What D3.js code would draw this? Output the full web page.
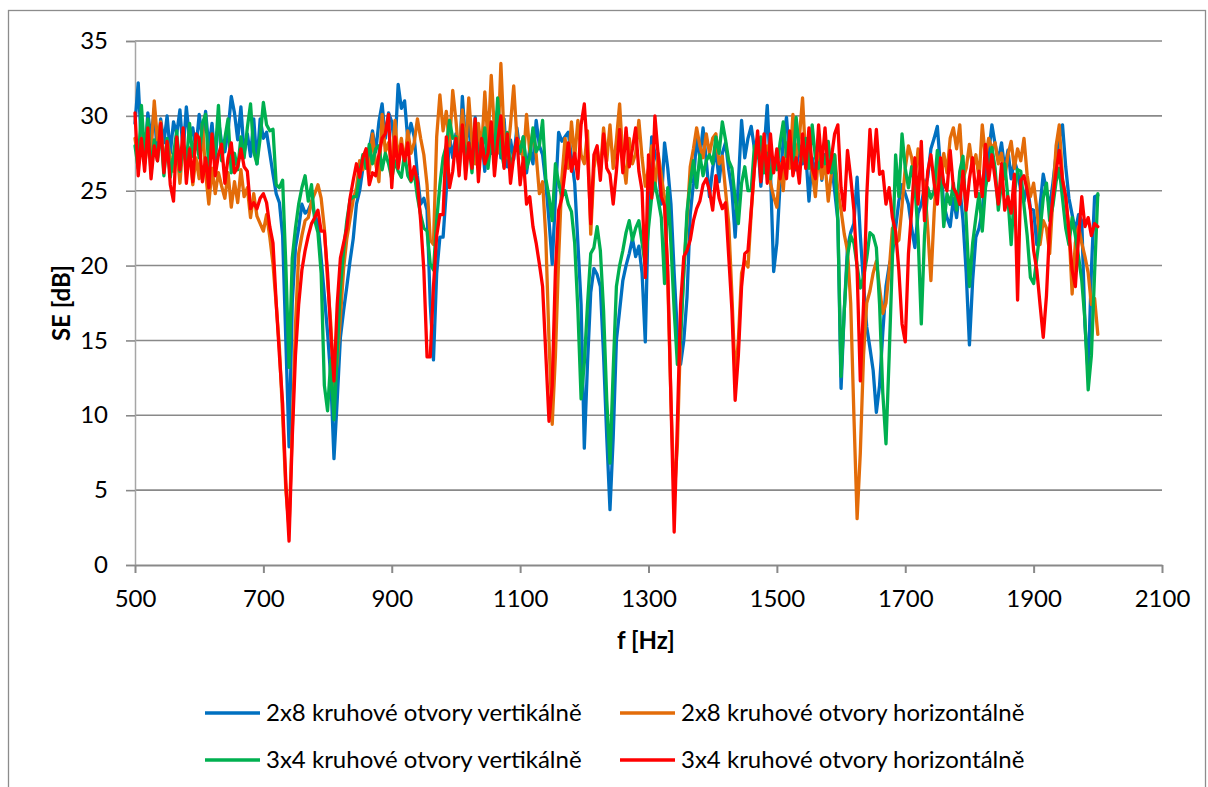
<!DOCTYPE html>
<html>
<head>
<meta charset="utf-8">
<script src="https://cdn.jsdelivr.net/npm/d3@7"></script>
<style>
  html, body { margin: 0; padding: 0; background: #fff; }
  svg { display: block; font-family: Lato, 'Open Sans', sans-serif; }
</style>
</head>
<body>
<svg id="chart" width="1208" height="787"></svg>
<script>
// frequency grid of the measurement [Hz]
const fStart = 500, fEnd = 2000, fStep = 5;

// SE [dB], one value per 5 Hz, rows are 100 Hz blocks
const blueVert2x8 = [
  29.5,32.2,28,27,30.2,28.5,30.5,27.2,29.8,28.2,30,27.5,29.6,28.8,30.4,27.6,30.6,28.4,29.2,27.8,
  30.1,28.5,30.3,27.9,29.5,27,29.7,28.2,27.6,29,31.3,30.2,28.4,30.6,27.5,28.8,27.3,29.8,26.8,29.8,
  28.5,28.9,27.5,26.1,24.8,24.2,22,15,7.9,17.5,21.2,22.5,24.1,23.5,23.7,24.2,23.4,22.8,20.5,18,
  15.5,12.5,7.1,11,15.2,17,18.6,20.3,21.8,24.1,25,26.5,26.8,27.8,29,27.6,29.6,30.8,28.5,30.2,
  29.6,27.8,32.1,30.5,31,28.4,29.5,28.6,26,24.1,24.5,23.7,17.4,13.7,19.5,21.9,21.9,25,28.6,27.2,
  28.8,26.5,31.3,28.2,29.5,26.8,29.9,27.4,28.6,26.3,30.2,27.5,29.1,30.4,27.2,29.8,26.6,28.4,27.1,29.2,
  27.5,28.6,26.2,27.8,26.8,29.7,28,27.4,25.5,23,20.1,24.5,28.9,28.3,28.6,28.9,27.2,25.5,21.5,17.4,
  7.8,13.5,18.2,19.8,19.4,18.6,14,8.5,3.7,8.5,15,17,19,20,20.8,21.8,20.6,21.3,19.5,14.9,
  24,28.6,27.5,26.8,24.1,28.2,26.5,24.1,19.5,15.5,13.4,15,17.9,23.4,25.5,28.6,27.2,29.2,27,24.6,
  26.5,27.8,25.6,27.5,28.2,26.4,25,21.9,25.5,29.7,27.2,28.5,29.3,27.8,28.5,25.3,27.6,30.7,26.3,19.6,
  21.5,25.5,28.4,29.9,27.2,28.8,26.4,28,26.8,27.5,24.3,27.2,26.1,28.3,25.7,27.4,26.4,26.9,25,23,
  11.8,17,21.2,22.2,22.8,25.9,22,18.8,15.9,14.5,13,10.2,12,15.5,18.6,20,20.8,22.5,24.3,25.4,
  24.8,24.1,22.5,21.2,23.5,24.1,25.2,25.9,27.8,28.5,29.3,26.5,24.1,23.2,22.6,24.5,23.2,25.2,23,19.5,
  14.7,19,21.9,22.5,23.7,26,27.5,29.4,28.1,27,28.2,26.4,27.7,25.8,27,26.3,25,24.3,25.5,23.8,
  23.7,21.4,24,26.1,25,23.9,25.5,27.4,28.5,29.4,26.6,24.5,23.4,22.3,23.4,23,16,12.8,19.7,24.6,
  24.7
];

const orangeHoriz2x8 = [
  28.5,27,29.5,26.8,28.2,27.5,31,28.4,29.6,26.5,28.4,27.2,26.3,27.8,25.5,28.2,26.6,27.9,25.4,27.2,
  25.8,29.5,26.2,24.1,26.5,24.8,26.2,25.3,24.5,26.2,23.9,25.6,24.2,26.4,24.6,25.2,23.2,24.8,23.3,22.8,
  22.3,23.4,21.9,20.1,17.4,14.5,10,5,2.5,9,16,20.8,22,23,23.2,24.3,24.8,25.4,24.5,22.5,
  19,16.1,12,13.5,16.5,19.8,21.8,23.1,24.4,25.2,27,26.4,27.5,26.2,28.8,26.8,25.6,30.1,27.6,28.2,
  26.5,29.7,27,28.5,26.8,29,27.5,28.2,29.8,28.5,27.4,25.4,21.7,21.4,28.6,31.4,29,30.3,28,31.7,
  29.7,27.2,30.4,27.5,31.2,28.3,26.8,29.5,27.6,31.6,28.2,32.7,29,27.5,33.5,28.6,27.2,29.4,32,28.5,
  28.2,27,30.1,27.6,29,27.4,24.8,25.6,21.9,15,9.4,14,20.5,25.8,28.5,26.5,29.6,27.2,29.7,27.4,
  26.8,29,22.1,26.5,27.8,26.2,29.2,27,29.4,26.5,28.4,30.8,27.2,25.5,28.5,26.8,27.5,29.7,27.2,25.3,
  26.5,28,25.2,27.5,26,24.5,19,11,4.5,8,15.5,19.7,23,26.6,27.8,29.2,28,27.2,28.8,27.5,
  28.5,28.8,26.8,27.3,25,22.8,18,12.5,15,19.5,20.3,19.9,23.5,26.5,28.6,27.3,26.5,28,25.5,24.6,
  23.9,26.8,25,28.2,26.5,30.1,27.2,28.5,31.2,27,28.6,26.2,24.6,27.5,25.8,26.9,24.3,26.2,27.4,25,
  23.7,22.1,21,17.5,10,3.1,7.5,14,17.5,18.3,19.5,20.3,18.5,16.8,17.5,19.7,22.5,21.5,21.7,24,
  26.5,28,27.2,25.6,27.8,26,25.5,22.5,19,23.5,27,25.2,27.5,26.2,28.5,29.2,27.8,29.4,25.8,26.5,
  28.1,26.5,27.4,25.8,29.4,27.2,28.5,27.8,28.2,26.8,27.5,25.8,27.4,28.3,26.5,27.8,27,28.5,26,24.6,
  25.5,23.8,21.4,23,22.5,20.8,24.5,28,29.4,25.8,24.5,22.5,18.1,21.5,22.6,21.5,20.6,19.5,17.4,17.8,
  15.4
];

const greenVert3x4 = [
  28,26.5,30.7,27.5,29.8,26.2,28.4,27,29.2,26,28.5,25.9,27.4,29,26.3,28.2,26.8,29.5,27.3,28.6,
  27.2,29.5,30.1,26.5,28.8,27.4,30.7,27,28.5,29.8,26.2,27.5,26.4,28.6,27.2,29.2,30.8,27.6,26.8,28.5,
  30.9,29.4,29,29.1,25.4,25.2,25.7,20,13.2,20.5,22.5,24.1,25.2,26,24.3,25.4,23,22.2,19.5,12,
  10.3,13.7,9.7,14.1,18.5,21,23,24.4,24.6,24.6,26.2,27.4,26.5,28.1,26.8,27.8,28,26.4,27.5,26.8,
  25.8,27,26.3,25.9,27.5,26,25.6,26.2,24.6,23.4,22.5,22.3,20.1,19.7,23,25.4,27.2,28,29.7,28.5,
  28.6,26.4,29.3,27,28.2,26.2,29.5,26.8,27.6,29.2,26.5,28.4,27.3,31.2,27.8,26.6,28.9,26.4,27.5,28.2,
  27.6,28.6,26.5,27.2,29.2,27.6,28,29.7,25.8,24.6,23,26.8,25.5,24.6,25,24.1,23.6,21.5,17,11.1,
  13.5,17.4,20.8,21.2,22.6,21,17,11,6.8,13,18.6,20,21,22.2,23,21.7,22.5,23,21.5,20,
  22.5,24.6,25.5,24.4,23.2,18.8,25.2,21.4,17,13.4,15,19.5,23.6,25.5,27,25.2,27.4,26,27,27.4,
  26.8,28.6,27.5,29.6,28.4,27,26.5,24.5,22.8,25.5,26.6,25,25,28,27.2,28.6,26.2,27.5,25.8,27,
  26.4,28.2,29.6,27.3,28.5,26.5,29.9,27.8,27,28.5,26.5,29.4,27.2,26.5,27.5,26.8,28.3,26.2,27.4,23,
  12.6,17,20.6,22,21.5,20,18.5,19.2,20.5,22.2,22,21.2,17.4,11.5,8.1,14,20.5,27.4,24.6,28.8,
  26.5,25.2,26.6,25.4,22,16.1,22,25.2,24.5,25,27.7,26.5,22.6,24.8,24.1,25.5,23.7,26.3,27.3,23,
  18.6,21.5,23.2,24.8,22.3,25.2,26.3,27.9,26.5,23.7,25.5,26.8,24.5,21.4,24.8,26.4,26.3,24,22,19.2,
  18.8,20.5,22.3,24.5,25.5,23,24,25.6,26.5,24.5,22.5,21.4,23.2,22,20.6,19,16.3,11.7,14,19.5,
  24.8
];

const redHoriz3x4 = [
  30.2,26,28.5,26.3,29.2,25.8,28,27,29.5,26.2,28.3,25.4,24.3,28.6,26.4,29.2,25.5,27.8,25.6,28.8,
  28.5,25.6,27.2,25.2,28.8,26,27.4,28.1,25.5,27.2,28.2,26.2,26.6,27.8,26.6,26.3,23.8,24.2,23.8,24.5,
  24.8,24.2,22.6,21.5,17.5,14,10.8,5.5,1.6,8.5,14,17.4,19.7,21,22,22.8,23.2,23.7,22.3,22.3,
  19.5,15.5,12.3,17.4,20.5,21.5,22.5,24.5,25.7,26.8,25.9,27.2,27.8,25.4,26.2,26,27.4,28.5,28.8,30.1,
  25.2,28.6,26.5,28.1,27,28.2,25.7,26.6,25.6,23,19.7,13.9,13.9,18.6,22,23.4,23.4,28.6,25.2,26.3,
  28.5,26,29.4,25.8,28.2,26.5,29.8,25.6,28.5,26.8,27.5,29.6,26,28.3,30,26.5,28.8,25.5,27.3,28.5,
  25.4,27.2,24.1,24.6,22.6,21.5,20.1,18.6,14.1,9.6,12,19.7,23.7,24.5,26.3,28.2,26.3,27.5,25.8,29.4,
  30.8,27.5,22.8,27.4,28,25.7,28.8,26.5,26.1,24.1,26.3,29.1,26.2,29.2,26.6,27.8,29.2,26.3,25,19.2,
  27.4,24.5,30,27.4,24.6,24,19.7,11,2.2,9.5,17.4,20.6,21,21.7,23,23.8,24.3,25.4,25.8,25,
  23.7,26,24.5,23.8,24.2,20.6,17,11,14,18.6,20.8,21,23.7,26.5,29,25.6,28.8,25.5,28.8,26.2,
  27.8,25.8,27.2,25.8,29,26,27.2,25.5,28.8,26.5,29.2,26.5,25.8,29.4,26.6,29.2,26.2,27.2,28.8,29.4,
  25.2,23.7,27.7,25.9,23.7,19.7,12.3,17.4,24.6,29.1,26.3,29.1,26.1,26.3,24.1,25.2,23.2,22.3,19.7,16.1,
  14.9,20.8,23.7,27.2,24.1,28.3,23,26.3,27.4,25.5,24.1,27.2,25.5,25,27.7,25.2,24.8,24.1,26.3,23.7,
  25.8,27.2,24.6,26.3,24.6,28.1,25.7,27.4,25.8,24.1,26.8,23.7,24.6,23.5,26.1,17.7,25.7,26,25,23.7,
  21,19.7,17.4,15.2,18,22.5,24.5,26.3,27.7,25.7,24.6,22.3,19.7,18.6,21.9,24.6,22.6,23.2,22,22.8,
  22.6
];

const seriesNames = [
  '2x8 kruhové otvory vertikálně',
  '2x8 kruhové otvory horizontálně',
  '3x4 kruhové otvory vertikálně',
  '3x4 kruhové otvory horizontálně'
];
const seriesColors = ['#0070C0', '#E36C09', '#00B050', '#FF0000'];
const seriesValues = [blueVert2x8, orangeHoriz2x8, greenVert3x4, redHoriz3x4];

const xTicks = [500, 700, 900, 1100, 1300, 1500, 1700, 1900, 2100];
const yTicks = [0, 5, 10, 15, 20, 25, 30, 35];
const xTitle = 'f [Hz]';
const yTitle = 'SE [dB]';

const freqs = d3.range(fStart, fEnd + fStep / 2, fStep);

const svg = d3.select('#chart');
const plot = { left: 135, right: 1162, top: 41, bottom: 565 };
const fontSize = '24px';

const x = d3.scaleLinear().domain([500, 2100]).range([plot.left, plot.right]);
const y = d3.scaleLinear().domain([0, 35]).range([plot.bottom, plot.top]);

// outer chart frame
svg.append('rect')
  .attr('x', 8.5).attr('y', 10.5)
  .attr('width', 1197).attr('height', 800)
  .attr('fill', 'none')
  .attr('stroke', '#8c8c8c')
  .attr('stroke-width', 1.3);

// horizontal gridlines
svg.append('g')
  .selectAll('line')
  .data(yTicks.filter(d => d > 0))
  .join('line')
  .attr('x1', plot.left).attr('x2', plot.right)
  .attr('y1', d => y(d)).attr('y2', d => y(d))
  .attr('stroke', '#898989')
  .attr('stroke-width', 1.6);

// y axis
const yAxis = svg.append('g')
  .attr('transform', `translate(${plot.left},0)`)
  .call(d3.axisLeft(y).tickValues(yTicks).tickSize(9).tickPadding(18));
yAxis.select('.domain').attr('stroke', '#a6a6a6').attr('stroke-width', 1.5);
yAxis.selectAll('.tick line').attr('stroke', '#898989').attr('stroke-width', 1.6);
yAxis.selectAll('.tick text')
  .attr('fill', '#000')
  .style('font-size', fontSize)
  .style('font-family', 'Lato, sans-serif');

// x axis
const xAxis = svg.append('g')
  .attr('transform', `translate(0,${plot.bottom})`)
  .call(d3.axisBottom(x).tickValues(xTicks).tickFormat(d3.format('d'))
    .tickSize(8).tickPadding(17).tickSizeOuter(0));
xAxis.select('.domain').attr('stroke', '#898989').attr('stroke-width', 2);
xAxis.selectAll('.tick line').attr('stroke', '#898989').attr('stroke-width', 2);
xAxis.selectAll('.tick text')
  .attr('fill', '#000')
  .style('font-size', fontSize)
  .style('font-family', 'Lato, sans-serif');

// series
const line = d3.line()
  .x((d, i) => x(freqs[i]))
  .y(d => y(d));

svg.append('g')
  .selectAll('path')
  .data(seriesValues)
  .join('path')
  .attr('d', d => line(d))
  .attr('fill', 'none')
  .attr('stroke', (d, i) => seriesColors[i])
  .attr('stroke-width', 3.3)
  .attr('stroke-linejoin', 'round')
  .attr('stroke-linecap', 'round');

// axis titles
svg.append('text')
  .attr('transform', 'translate(70,303) rotate(-90)')
  .attr('text-anchor', 'middle')
  .style('font-size', fontSize)
  .style('font-weight', 'bold')
  .text(yTitle);

svg.append('text')
  .attr('x', 646).attr('y', 649)
  .attr('text-anchor', 'middle')
  .style('font-size', fontSize)
  .style('font-weight', 'bold')
  .text(xTitle);

// legend
const legendPos = [
  { x: 205, y: 713 }, { x: 620, y: 713 },
  { x: 205, y: 760 }, { x: 620, y: 760 }
];
const legend = svg.append('g')
  .selectAll('g')
  .data(seriesNames)
  .join('g')
  .attr('transform', (d, i) => `translate(${legendPos[i].x},${legendPos[i].y})`);

legend.append('line')
  .attr('x1', 0).attr('x2', 55)
  .attr('stroke', (d, i) => seriesColors[i])
  .attr('stroke-width', 3.5);

legend.append('text')
  .attr('x', 61)
  .attr('dy', '0.35em')
  .style('font-size', fontSize)
  .text(d => d);
</script>
</body>
</html>
